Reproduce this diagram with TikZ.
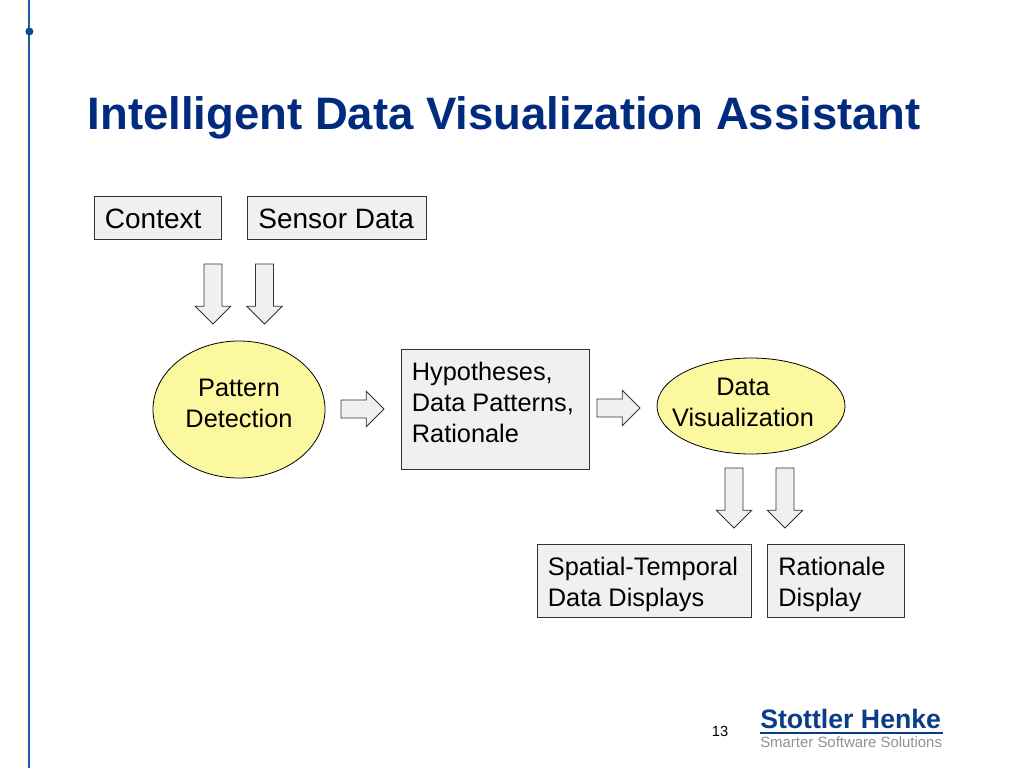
\documentclass[tikz,border=0pt]{standalone}
\usepackage{fontspec}
\setmainfont{Liberation Sans}
\usetikzlibrary{shapes.geometric,shapes.arrows}
\definecolor{titleblue}{HTML}{002B7F}
\definecolor{rulecol}{HTML}{1F5AA8}
\definecolor{dotcol}{HTML}{0F4A90}
\definecolor{logoblue}{HTML}{0B3C86}
\definecolor{logogray}{HTML}{8E9296}
\definecolor{boxfill}{HTML}{F0F0F0}
\definecolor{ovalfill}{HTML}{FBF8A0}
\definecolor{edge}{HTML}{333333}
\newcommand{\bodyfont}{\fontsize{19}{23.25}\selectfont}
\newcommand{\topfont}{\fontsize{21}{23.25}\selectfont}
\tikzset{
  x=0.75pt,y=-0.75pt,
  boxnode/.style={draw=edge,line width=0.6pt,fill=boxfill,rectangle,inner sep=0pt,outer sep=0pt},
  ovalnode/.style={draw=black,line width=0.6pt,fill=ovalfill,ellipse,inner sep=0pt,outer sep=0pt},
  boxtext/.style={font=\bodyfont,align=left,inner sep=0pt,anchor=north west,xshift=8pt,yshift=-9.3pt},
  toptext/.style={boxtext,font=\topfont},
  ovaltext/.style={font=\bodyfont,align=center,inner sep=0pt},
  blockarrow/.style={draw=edge,line width=0.6pt,fill=boxfill,single arrow,inner xsep=0pt,inner ysep=6.4pt,outer sep=0pt,
    single arrow head extend=6.6pt,anchor=tail},
  downarrow/.style={blockarrow,minimum height=45pt,rotate=-90},
  rightarrow/.style={blockarrow,minimum height=32.25pt}
}
\begin{document}
\begin{tikzpicture}
\useasboundingbox (0,0) rectangle (1024,768);
\fill[white] (0,0) rectangle (1024,768);
\coordinate (railtop) at (29.4,0);
\coordinate (railbottom) at (29.4,768);
\draw[rulecol,line width=1.4pt] (railtop) -- (railbottom);
\node[circle,fill=dotcol,minimum size=6pt,inner sep=0pt] (raildot) at (29.4,31.5) {};
\node[anchor=base west,inner sep=0pt,text=titleblue,font=\fontsize{34.1}{40}\selectfont\bfseries] (title) at (87.5,129) {Intelligent Data Visualization Assistant};

\node[boxnode,minimum width=95.25pt,minimum height=32.25pt,
  label={[toptext]north west:Context}] (context) at (157.5,217.5) {};
\node[boxnode,minimum width=134.25pt,minimum height=32.25pt,
  label={[toptext]north west:Sensor Data}] (sensor) at (337,217.5) {};

\node[downarrow] (d1) at (213,264) {};
\node[downarrow] (d2) at (264.5,264) {};

\node[ovalnode,minimum width=129pt,minimum height=102.75pt,
  label={[ovaltext,yshift=4.2pt]center:Pattern\\Detection}] (pattern) at (239,409.5) {};
\node[rightarrow] (r1) at (341,409) {};
\node[boxnode,minimum width=141pt,minimum height=90pt,
  label={[boxtext]north west:Hypotheses,\\Data Patterns,\\Rationale}] (hypo) at (495,409.5) {};
\node[rightarrow] (r2) at (597,408) {};
\node[ovalnode,minimum width=141pt,minimum height=72pt,
  label={[ovaltext,xshift=-6pt,yshift=2.4pt]center:Data\\Visualization}] (vis) at (751,406) {};

\node[downarrow] (d3) at (734,468) {};
\node[downarrow] (d4) at (785,468) {};

\node[boxnode,minimum width=160.5pt,minimum height=54.75pt,
  label={[boxtext]north west:Spatial-Temporal\\Data Displays}] (spatial) at (644,581) {};
\node[boxnode,minimum width=102.75pt,minimum height=54.75pt,
  label={[boxtext]north west:Rationale\\Display}] (rationale) at (836,581) {};

\node[inner sep=0pt,font=\fontsize{11}{13}\selectfont] (page) at (720,731) {13};
\node[anchor=base west,inner sep=0pt,text=logoblue,font=\fontsize{20}{24}\selectfont\bfseries] (logoa) at (760,728) {Stottler Henke};
\coordinate (lineL) at (760,733);
\coordinate (lineR) at (943,733);
\draw[logoblue,line width=2pt] (lineL) -- (lineR);
\node[anchor=base west,inner sep=0pt,text=logogray,font=\fontsize{11.2}{13}\selectfont] (logob) at (760,747) {Smarter Software Solutions};
\end{tikzpicture}
\end{document}
